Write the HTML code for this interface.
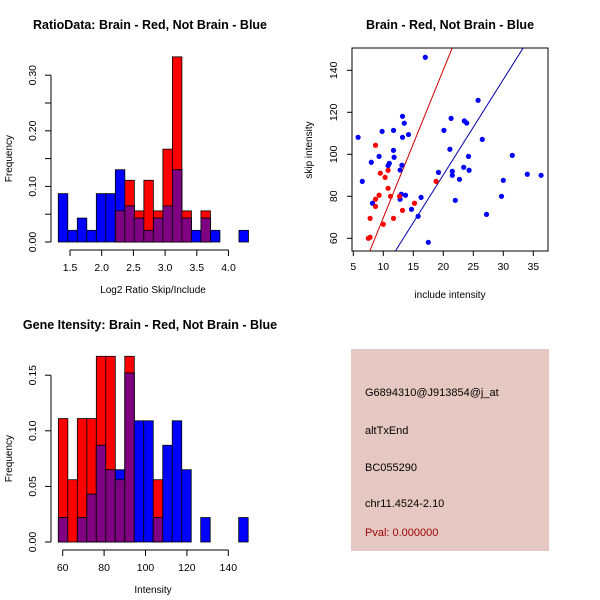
<!DOCTYPE html>
<html><head><meta charset="utf-8">
<style>
html,body{margin:0;padding:0;background:#fff;}
svg{display:block;font-family:"Liberation Sans",sans-serif;}
</style></head>
<body>
<svg id="root" width="600" height="600" viewBox="0 0 600 600">
  <text x="150" y="29" text-anchor="middle" font-size="12.5" font-weight="bold">RatioData: Brain - Red, Not Brain - Blue</text>
  <text x="450" y="29" text-anchor="middle" font-size="12.5" font-weight="bold">Brain - Red, Not Brain - Blue</text>
  <text x="150" y="329" text-anchor="middle" font-size="12.5" font-weight="bold">Gene Itensity: Brain - Red, Not Brain - Blue</text>
  <g id="p1"></g>
  <g id="p2"></g>
  <g id="p3"></g>
  <g>
    <rect x="351" y="349" width="198" height="202" fill="#E6C8C2"/>
    <text x="365" y="396" font-size="11">G6894310@J913854@j_at</text>
    <text x="365" y="434" font-size="11">altTxEnd</text>
    <text x="365" y="471" font-size="11">BC055290</text>
    <text x="365" y="507" font-size="11">chr11.4524-2.10</text>
    <text x="365" y="536" font-size="11" fill="#9B0000">Pval: 0.000000</text>
  </g>
</svg>
<script>
// ---- Ratio histogram data ----
const ratioBinStart = 1.315;
const ratioBinWidth = 0.15;
const ratioRed  = [0,0,0,0,0,0,0.056,0.111,0.056,0.111,0.056,0.167,0.333,0.056,0,0.056,0,0,0,0];
const ratioBlue = [0.087,0.021,0.043,0.021,0.087,0.087,0.130,0.065,0.043,0.021,0.043,0.065,0.130,0.043,0.021,0.043,0.021,0,0,0.021];
const ratioXTicks = [1.5,2.0,2.5,3.0,3.5,4.0];
const ratioXLabels = ["1.5","2.0","2.5","3.0","3.5","4.0"];
const ratioYTicks = [0,0.1,0.2,0.3];
const ratioYLabels = ["0.00","0.10","0.20","0.30"];
const ratioYMinor = [0.05,0.15,0.25];

// ---- Gene intensity histogram data ----
const geneBinStart = 57.9;
const geneBinWidth = 4.585;
const geneRed  = [0.111,0.056,0.111,0.111,0.167,0.167,0.056,0.167,0,0,0.056,0,0,0,0,0,0,0,0,0];
const geneBlue = [0.022,0,0.022,0.043,0.087,0.065,0.065,0.152,0.109,0.109,0.022,0.087,0.109,0.065,0,0.022,0,0,0,0.022];
const geneXTicks = [60,80,100,120,140];
const geneXLabels = ["60","80","100","120","140"];
const geneYTicks = [0,0.05,0.10,0.15];
const geneYLabels = ["0.00","0.05","0.10","0.15"];

// ---- Scatter data ----
const blueX = [5.8,6.5,8,8.2,9.3,9.8,10.8,11,11.7,11.7,11.8,12.8,13.1,13.2,13.2,13.5,12.8,13,13.7,14.2,14.7,15.8,16.3,17,17.5,19.2,20.1,21.1,21.3,21.5,21.5,22,22.7,23.4,23.5,23.9,24.2,24.3,25.8,26.5,27.2,29.7,30,31.5,34,36.3];
const blueY = [108.1,87.1,96.2,76.7,99,110.9,94.6,95.7,111.4,101.9,98.6,92.5,94.8,118.1,108.1,114.8,78.6,81,80.5,109.4,73.8,70.5,79.5,146.2,58.1,91.4,111.4,102.4,117.1,91.9,90,78.1,88.1,93.8,115.9,114.9,99,92.4,125.7,107.1,71.4,80,87.6,99.5,90.5,90];
const redX = [8.7,7.8,7.5,7.8,8.7,8.7,9.3,9.5,10,10.3,10.8,10.8,11.2,11.7,12.7,13.2,15.2,18.8];
const redY = [104.3,69.5,60,60.5,78.6,75.2,80.5,91,66.7,89,83.8,92.4,80,69.5,80,73.3,76.7,87.1];
const redFit = [-0.6, 7.04];   // intercept, slope
const blueFit = [-0.6, 4.54];
const scXTicks = [5,10,15,20,25,30,35];
const scXLabels = ["5","10","15","20","25","30","35"];
const scYTicks = [60,80,100,120,140];
const scYLabels = ["60","80","100","120","140"];

const NS = "http://www.w3.org/2000/svg";
function mk(parent, tag, attrs){
  const e = document.createElementNS(NS, tag);
  for (const k in attrs) e.setAttribute(k, attrs[k]);
  parent.appendChild(e);
  return e;
}

function drawHist(g, red, blue, start, width, sx, sy, xTicks, xLabels, yTicks, yLabels, yMinor, xTitle, axisY, axisLeft){
  const base = sy(0);
  for (let i = 0; i < red.length; i++){
    const x0 = sx(start + i*width), x1 = sx(start + (i+1)*width);
    const r = red[i], b = blue[i], m = Math.min(r,b);
    if (r > 0){
      const e = mk(g,'rect',{x:x0,y:sy(r),width:x1-x0,height:base-sy(r),fill:'#FF0000',stroke:'#000','stroke-width':0.8});
      
      
    }
    if (b > 0){
      const e = mk(g,'rect',{x:x0,y:sy(b),width:x1-x0,height:base-sy(b),fill:'#0000FF',stroke:'#000','stroke-width':0.8});
      
      
    }
    if (m > 0){
      const e = mk(g,'rect',{x:x0,y:sy(m),width:x1-x0,height:base-sy(m),fill:'#7F0080',stroke:'#000','stroke-width':0.8});
      
      
    }
  }
  const xa = mk(g,'g',{});
  
  
  mk(xa,'line',{x1:sx(xTicks[0]),x2:sx(xTicks[xTicks.length-1]),y1:axisY,y2:axisY,stroke:'#000'});
  xTicks.forEach((t,i)=>{
    mk(xa,'line',{x1:sx(t),x2:sx(t),y1:axisY,y2:axisY+6,stroke:'#000'});
    const tx = mk(xa,'text',{x:sx(t),y:axisY+21,'text-anchor':'middle','font-size':10.5});
    tx.textContent = xLabels[i];
    
    
  });
  const xt = mk(g,'text',{x:153,y:axisY+43,'text-anchor':'middle','font-size':10});
  xt.textContent = xTitle;
  
  
  const ya = mk(g,'g',{});
  
  
  const all = yTicks.concat(yMinor||[]);
  mk(ya,'line',{x1:axisLeft,x2:axisLeft,y1:sy(0),y2:sy(Math.max(...all)),stroke:'#000'});
  all.forEach(t=> mk(ya,'line',{x1:axisLeft-6,x2:axisLeft,y1:sy(t),y2:sy(t),stroke:'#000'}));
  yTicks.forEach((t,i)=>{
    const tx = mk(ya,'text',{x:0,y:0,'text-anchor':'middle','font-size':10.5,transform:`translate(${axisLeft-15},${sy(t)}) rotate(-90)`});
    tx.textContent = yLabels[i];
    
    
  });
  const yt = mk(g,'text',{x:0,y:0,'text-anchor':'middle','font-size':10,transform:`translate(12,${(sy(0)+sy(Math.max(...yTicks)))/2}) rotate(-90)`});
  yt.textContent = 'Frequency';
  
  
}

(function(){
  const g = document.getElementById('p1');
  const sx = v => 70 + (v-1.5)*63.4;
  const sy = v => 242 - v*556;
  drawHist(g, ratioRed, ratioBlue, ratioBinStart, ratioBinWidth, sx, sy, ratioXTicks, ratioXLabels, ratioYTicks, ratioYLabels, ratioYMinor, 'Log2 Ratio Skip/Include', 250, 51);
})();

(function(){
  const g = document.getElementById('p3');
  const sx = v => 62.7 + (v-60)*2.07;
  const sy = v => 542 - v*1112;
  drawHist(g, geneRed, geneBlue, geneBinStart, geneBinWidth, sx, sy, geneXTicks, geneXLabels, geneYTicks, geneYLabels, [], 'Intensity', 550, 51);
})();

(function(){
  const g = document.getElementById('p2');
  const sx = v => 353.3 + (v-5)*6;
  const sy = v => 238.3 - (v-60)*2.1;
  const L=352, R=548, T=48, B=251;
  const frame = mk(g,'rect',{x:L,y:T,width:R-L,height:B-T,fill:'none',stroke:'#000'});
  
  
  const clip = mk(g,'clipPath',{id:'sc'});
  mk(clip,'rect',{x:L,y:T,width:R-L,height:B-T});
  const inner = mk(g,'g',{'clip-path':'url(#sc)'});
  function fit(f, col, name){
    const xa = 0, xb = 45;
    const l = mk(inner,'line',{x1:sx(xa),y1:sy(f[0]+f[1]*xa),x2:sx(xb),y2:sy(f[0]+f[1]*xb),stroke:col,'stroke-width':1});
    
    
  }
  fit(redFit,'#CC0000','red-fit-line');
  fit(blueFit,'#0000AA','blue-fit-line');
  blueX.forEach((x,i)=>{
    const c = mk(inner,'circle',{cx:sx(x),cy:sy(blueY[i]),r:2.6,fill:'#0000FF'});
    
    
  });
  redX.forEach((x,i)=>{
    const c = mk(inner,'circle',{cx:sx(x),cy:sy(redY[i]),r:2.6,fill:'#FF0000'});
    
    
  });
  const xa = mk(g,'g',{});
  
  
  scXTicks.forEach((t,i)=>{
    mk(xa,'line',{x1:sx(t),x2:sx(t),y1:B,y2:B+5,stroke:'#000'});
    const tx = mk(xa,'text',{x:sx(t),y:B+19,'text-anchor':'middle','font-size':10.5});
    tx.textContent = scXLabels[i];
    
    
  });
  const xt = mk(g,'text',{x:450,y:298,'text-anchor':'middle','font-size':10});
  xt.textContent = 'include intensity';
  
  
  const ya = mk(g,'g',{});
  
  
  scYTicks.forEach((t,i)=>{
    mk(ya,'line',{x1:L-5,x2:L,y1:sy(t),y2:sy(t),stroke:'#000'});
    const tx = mk(ya,'text',{x:0,y:0,'text-anchor':'middle','font-size':10.5,transform:`translate(${L-15},${sy(t)}) rotate(-90)`});
    tx.textContent = scYLabels[i];
    
    
  });
  const yt = mk(g,'text',{x:0,y:0,'text-anchor':'middle','font-size':10,transform:`translate(312,150) rotate(-90)`});
  yt.textContent = 'skip intensity';
  
  
})();
</script>
</body></html>
